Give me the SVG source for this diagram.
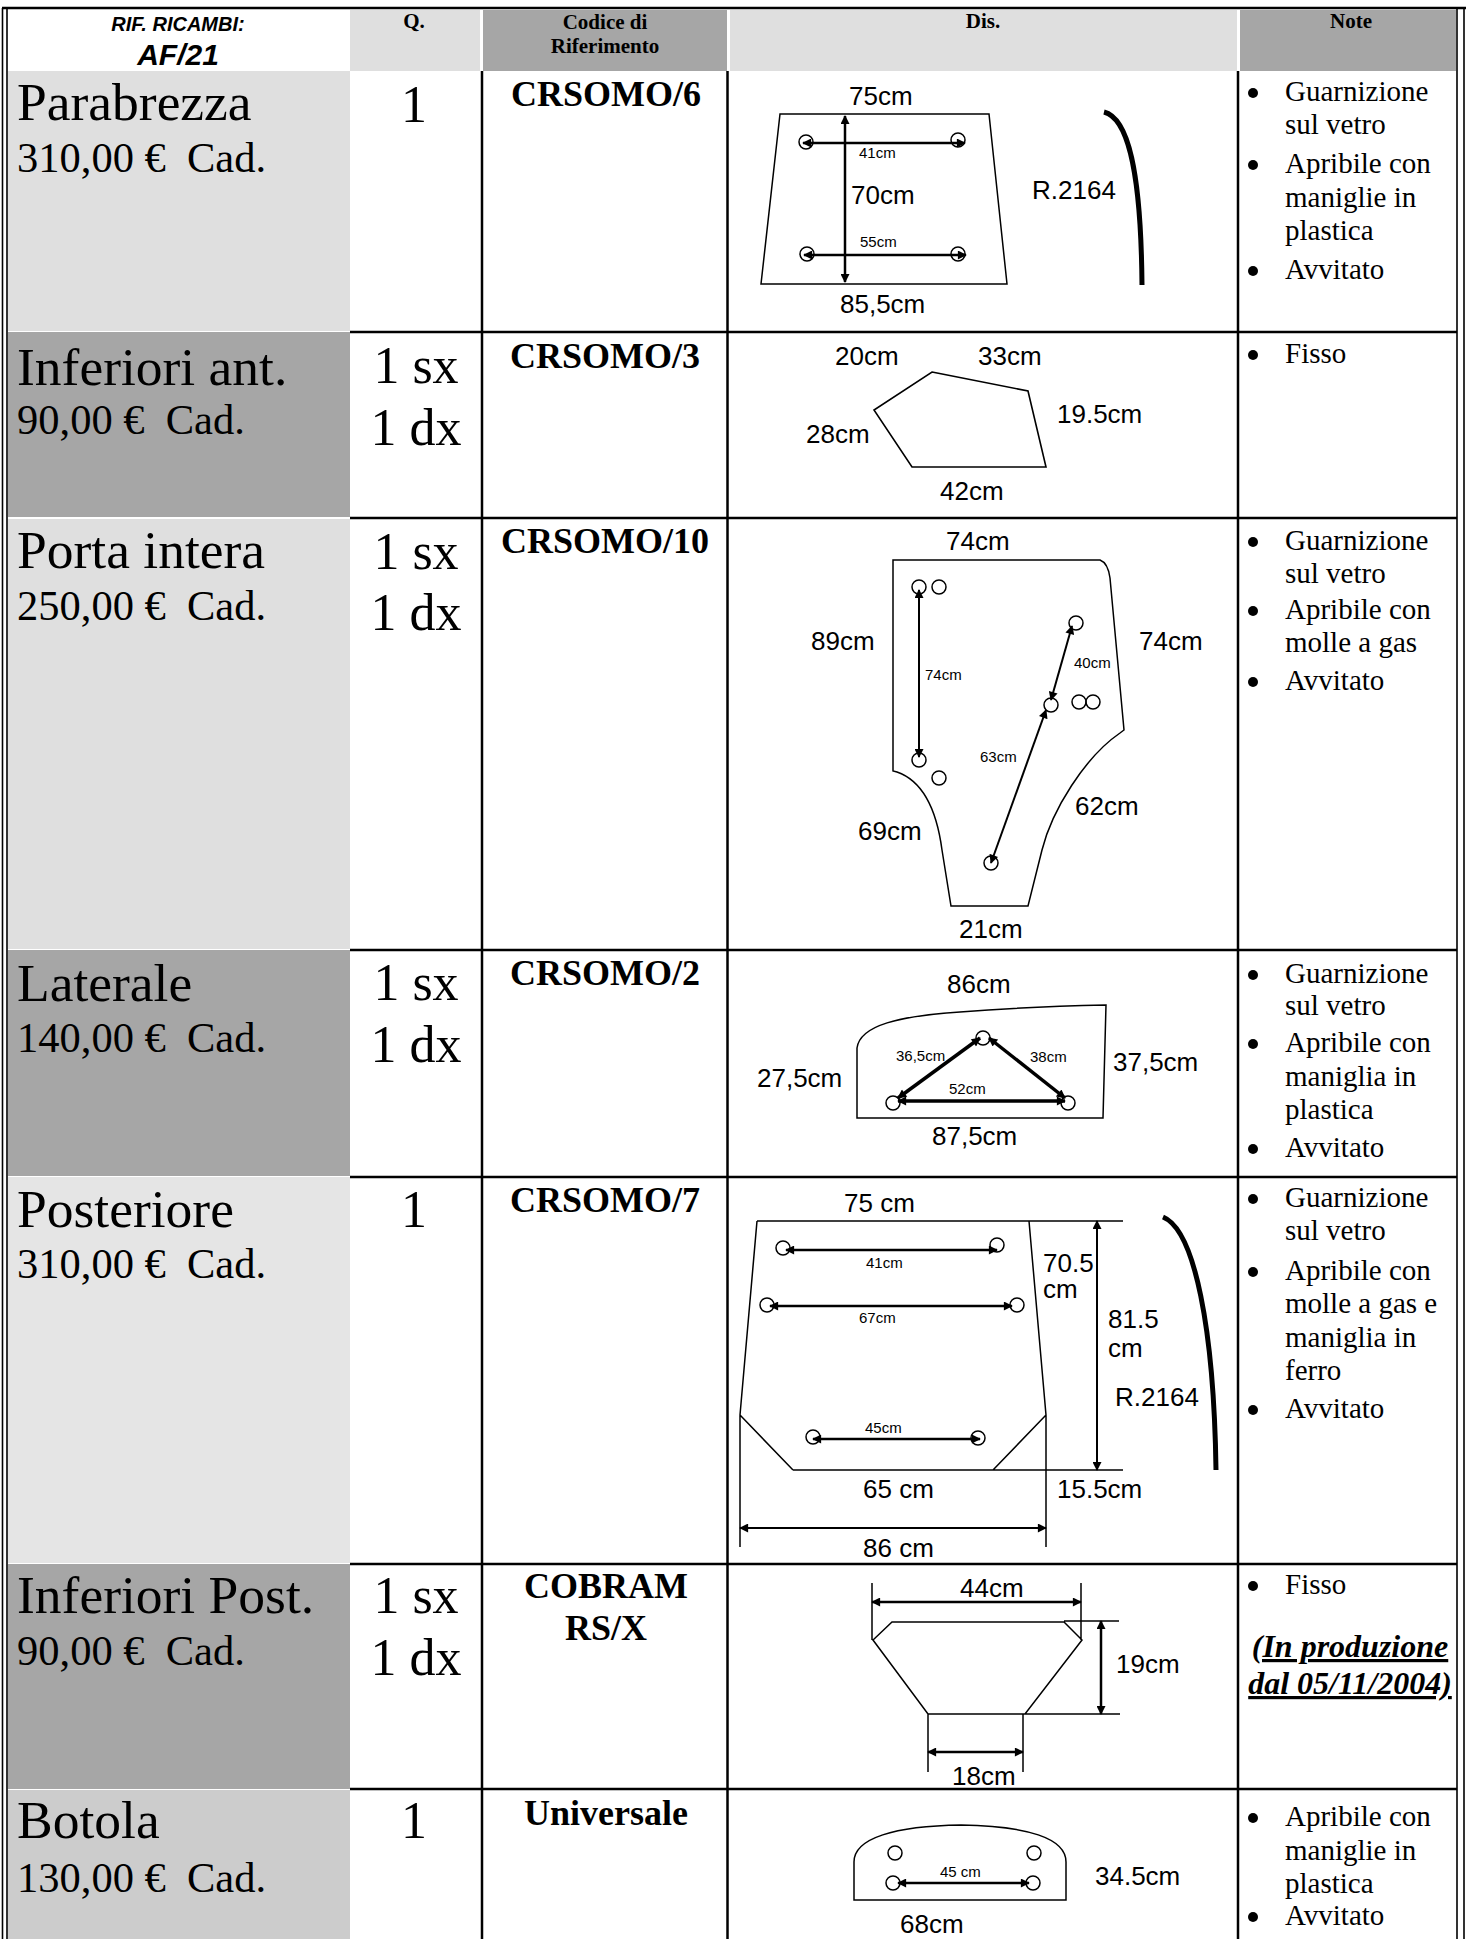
<svg xmlns="http://www.w3.org/2000/svg" width="1472" height="1939" viewBox="0 0 1472 1939">
<defs>
<marker id="ah" viewBox="0 0 10 10" refX="9" refY="5" markerWidth="11" markerHeight="9" markerUnits="userSpaceOnUse" orient="auto-start-reverse"><path d="M0,0 L10,5 L0,10 z" fill="#000"/></marker>
<style>
.grid{stroke:#000;stroke-width:2.5;fill:none}
.bd{stroke:#000;stroke-width:1.6;fill:none}
.thin{stroke:#000;stroke-width:1.5;fill:none}
.serif{font-family:"Liberation Serif","Times New Roman",serif;fill:#000}
.sans{font-family:"Liberation Sans",Arial,sans-serif;fill:#000}
.hdr{font-size:21px;font-weight:bold;text-anchor:middle}
.name{font-size:53.5px}
.price{font-size:42.5px}
.qty{font-size:52px;text-anchor:middle}
.code{font-size:36px;font-weight:bold;text-anchor:middle}
.note{font-size:29px}
.dim{font-size:26px}
.sm{font-size:15px}
.hole{fill:none;stroke:#000;stroke-width:1.5}
.arr{stroke:#000;stroke-width:2.5;fill:none;marker-start:url(#ah);marker-end:url(#ah)}
.arrt{stroke:#000;stroke-width:3.5;fill:none;marker-start:url(#ah);marker-end:url(#ah)}
.arrn{stroke:#000;stroke-width:2;fill:none;marker-start:url(#ah);marker-end:url(#ah)}
.bow{stroke:#000;stroke-width:5;fill:none}
.dot{fill:#000}
</style>
</defs>
<rect width="1472" height="1939" fill="#fff"/>

<g id="fills">
<rect x="350" y="10" width="130" height="61" fill="#dfdfdf"/>
<rect x="483" y="10" width="244" height="61" fill="#a6a6a6"/>
<rect x="730" y="10" width="507" height="61" fill="#dfdfdf"/>
<rect x="1240" y="10" width="216" height="61" fill="#a6a6a6"/>
<rect x="8" y="71" width="342" height="260" fill="#dfdfdf"/>
<rect x="8" y="332" width="342" height="185" fill="#a6a6a6"/>
<rect x="8" y="519" width="342" height="430" fill="#dfdfdf"/>
<rect x="8" y="950" width="342" height="226" fill="#a6a6a6"/>
<rect x="8" y="1177" width="342" height="386" fill="#e5e5e5"/>
<rect x="8" y="1564" width="342" height="225" fill="#a6a6a6"/>
<rect x="8" y="1790" width="342" height="149" fill="#cccccc"/>
</g>

<g id="grid">
<path class="grid" d="M2,8 H1466"/>
<path class="bd" d="M2.5,8 V1939 M7,8 V1939 M1457,8 V1939 M1464,8 V1939"/>
<path class="grid" d="M482,71 V1939 M727.5,71 V1939 M1238,71 V1939"/>
<path class="grid" d="M350,332 H1457 M350,518 H1457 M350,950 H1457 M350,1177 H1457 M350,1564 H1457 M350,1789 H1457"/>
</g>

<g id="header">
<text class="sans" x="178" y="31" font-size="20" font-weight="bold" font-style="italic" text-anchor="middle">RIF. RICAMBI:</text>
<text class="sans" x="178" y="65" font-size="30" font-weight="bold" font-style="italic" text-anchor="middle">AF/21</text>
<text class="serif hdr" x="414" y="28">Q.</text>
<text class="serif hdr" x="605" y="29">Codice di</text>
<text class="serif hdr" x="605" y="53">Riferimento</text>
<text class="serif hdr" x="983" y="28">Dis.</text>
<text class="serif hdr" x="1351" y="28">Note</text>
</g>

<g id="row-parabrezza">
<text class="serif name" x="17" y="120">Parabrezza</text>
<text class="serif price" x="17" y="172" xml:space="preserve">310,00 €  Cad.</text>
<text class="serif qty" x="414" y="122">1</text>
<text class="serif code" x="606" y="106">CRSOMO/6</text>
<path class="thin" d="M780,114 L989,114 L1007,284 L761,284 Z"/>
<circle class="hole" cx="806" cy="142" r="7"/><circle class="hole" cx="958" cy="140" r="7"/>
<circle class="hole" cx="807" cy="254" r="7"/><circle class="hole" cx="958" cy="254" r="7"/>
<path class="arr" d="M845,116 V282"/>
<path class="arr" d="M803,143 H965"/>
<path class="arr" d="M804,255 H966"/>
<path class="bow" d="M1104,112 C1128,118 1141,170 1142,285"/>
<text class="sans dim" x="849" y="105">75cm</text>
<text class="sans sm" x="859" y="158">41cm</text>
<text class="sans dim" x="851" y="204">70cm</text>
<text class="sans sm" x="860" y="247">55cm</text>
<text class="sans dim" x="840" y="313">85,5cm</text>
<text class="sans dim" x="1032" y="199">R.2164</text>
<circle class="dot" cx="1253" cy="93" r="5"/><circle class="dot" cx="1253" cy="165" r="5"/><circle class="dot" cx="1253" cy="271" r="5"/>
<text class="serif note" x="1285" y="101">Guarnizione</text>
<text class="serif note" x="1285" y="134">sul vetro</text>
<text class="serif note" x="1285" y="173">Apribile con</text>
<text class="serif note" x="1285" y="207">maniglie in</text>
<text class="serif note" x="1285" y="240">plastica</text>
<text class="serif note" x="1285" y="279">Avvitato</text>
</g>

<g id="row-inferiori-ant">
<text class="serif name" x="17" y="385">Inferiori ant.</text>
<text class="serif price" x="17" y="434" xml:space="preserve">90,00 €  Cad.</text>
<text class="serif qty" x="416" y="383">1 sx</text>
<text class="serif qty" x="416" y="445">1 dx</text>
<text class="serif code" x="605" y="368">CRSOMO/3</text>
<path class="bd" d="M932,372 L1028,391 L1046,467 L912,467 L874,410 Z"/>
<text class="sans dim" x="835" y="365">20cm</text>
<text class="sans dim" x="978" y="365">33cm</text>
<text class="sans dim" x="806" y="443">28cm</text>
<text class="sans dim" x="1057" y="423">19.5cm</text>
<text class="sans dim" x="940" y="500">42cm</text>
<circle class="dot" cx="1253" cy="355" r="5"/>
<text class="serif note" x="1285" y="363">Fisso</text>
</g>

<g id="row-porta-intera">
<text class="serif name" x="17" y="568">Porta intera</text>
<text class="serif price" x="17" y="620" xml:space="preserve">250,00 €  Cad.</text>
<text class="serif qty" x="416" y="569">1 sx</text>
<text class="serif qty" x="416" y="630">1 dx</text>
<text class="serif code" x="605" y="553">CRSOMO/10</text>
<path class="thin" d="M893,560 L1100,560 Q1108,563 1110,578 L1124,730 L1120,733 C1085,757 1052,810 1042,850 L1028,906 L951,906 L942,850 C936,805 920,780 897,772 L893,771 Z"/>
<circle class="hole" cx="919" cy="587" r="7"/><circle class="hole" cx="939" cy="587" r="7"/>
<circle class="hole" cx="1076" cy="623" r="7"/><circle class="hole" cx="1051" cy="705" r="7"/>
<circle class="hole" cx="1079" cy="702" r="7"/><circle class="hole" cx="1093" cy="702" r="7"/>
<circle class="hole" cx="919" cy="760" r="7"/><circle class="hole" cx="939" cy="778" r="7"/>
<circle class="hole" cx="991" cy="863" r="7"/>
<path class="arrn" d="M919,590 V757"/>
<path class="arrn" d="M1072,626 L1051,700"/>
<path class="arrn" d="M1046,710 L991,863"/>
<text class="sans dim" x="946" y="550">74cm</text>
<text class="sans dim" x="811" y="650">89cm</text>
<text class="sans dim" x="1139" y="650">74cm</text>
<text class="sans sm" x="925" y="680">74cm</text>
<text class="sans sm" x="1074" y="668">40cm</text>
<text class="sans sm" x="980" y="762">63cm</text>
<text class="sans dim" x="1075" y="815">62cm</text>
<text class="sans dim" x="858" y="840">69cm</text>
<text class="sans dim" x="959" y="938">21cm</text>
<circle class="dot" cx="1253" cy="542" r="5"/><circle class="dot" cx="1253" cy="611" r="5"/><circle class="dot" cx="1253" cy="682" r="5"/>
<text class="serif note" x="1285" y="550">Guarnizione</text>
<text class="serif note" x="1285" y="583">sul vetro</text>
<text class="serif note" x="1285" y="619">Apribile con</text>
<text class="serif note" x="1285" y="652">molle a gas</text>
<text class="serif note" x="1285" y="690">Avvitato</text>
</g>

<g id="row-laterale">
<text class="serif name" x="17" y="1001">Laterale</text>
<text class="serif price" x="17" y="1052" xml:space="preserve">140,00 €  Cad.</text>
<text class="serif qty" x="416" y="1000">1 sx</text>
<text class="serif qty" x="416" y="1062">1 dx</text>
<text class="serif code" x="605" y="985">CRSOMO/2</text>
<path class="thin" d="M857,1118 L857,1048 C860,1025 900,1016 960,1012 C1010,1008 1060,1006 1106,1005 L1103,1118 Z"/>
<circle class="hole" cx="983" cy="1038" r="7"/><circle class="hole" cx="893" cy="1103" r="7"/><circle class="hole" cx="1068" cy="1103" r="7"/>
<path class="arrt" d="M898,1098 L980,1038"/>
<path class="arrt" d="M989,1038 L1065,1098"/>
<path class="arrt" d="M898,1101 L1065,1101"/>
<text class="sans dim" x="947" y="993">86cm</text>
<text class="sans sm" x="896" y="1061">36,5cm</text>
<text class="sans sm" x="1030" y="1062">38cm</text>
<text class="sans sm" x="949" y="1094">52cm</text>
<text class="sans dim" x="757" y="1087">27,5cm</text>
<text class="sans dim" x="1113" y="1071">37,5cm</text>
<text class="sans dim" x="932" y="1145">87,5cm</text>
<circle class="dot" cx="1253" cy="975" r="5"/><circle class="dot" cx="1253" cy="1044" r="5"/><circle class="dot" cx="1253" cy="1149" r="5"/>
<text class="serif note" x="1285" y="983">Guarnizione</text>
<text class="serif note" x="1285" y="1015">sul vetro</text>
<text class="serif note" x="1285" y="1052">Apribile con</text>
<text class="serif note" x="1285" y="1086">maniglia in</text>
<text class="serif note" x="1285" y="1119">plastica</text>
<text class="serif note" x="1285" y="1157">Avvitato</text>
</g>

<g id="row-posteriore">
<text class="serif name" x="17" y="1227">Posteriore</text>
<text class="serif price" x="17" y="1278" xml:space="preserve">310,00 €  Cad.</text>
<text class="serif qty" x="414" y="1227">1</text>
<text class="serif code" x="605" y="1212">CRSOMO/7</text>
<path class="thin" d="M757,1221 L740,1415 L793,1470 M757,1221 H1123 M1029,1221 L1046,1415 L993,1470 M793,1470 H1123 M740,1415 V1547 M1046,1415 V1547"/>
<circle class="hole" cx="783" cy="1248" r="7"/><circle class="hole" cx="997" cy="1245" r="7"/>
<circle class="hole" cx="767" cy="1305" r="7"/><circle class="hole" cx="1017" cy="1305" r="7"/>
<circle class="hole" cx="813" cy="1437" r="7"/><circle class="hole" cx="978" cy="1438" r="7"/>
<path class="arr" d="M786,1250 H997"/>
<path class="arr" d="M770,1306 H1012"/>
<path class="arr" d="M813,1439 H980"/>
<path class="arrn" d="M740,1528 H1046"/>
<path class="arrn" d="M1097,1221 V1470"/>
<path class="bow" d="M1163,1217 C1195,1230 1214,1330 1216,1470"/>
<text class="sans dim" x="844" y="1212">75 cm</text>
<text class="sans sm" x="866" y="1268">41cm</text>
<text class="sans sm" x="859" y="1323">67cm</text>
<text class="sans sm" x="865" y="1433">45cm</text>
<text class="sans dim" x="1043" y="1272">70.5</text>
<text class="sans dim" x="1043" y="1298">cm</text>
<text class="sans dim" x="1108" y="1328">81.5</text>
<text class="sans dim" x="1108" y="1357">cm</text>
<text class="sans dim" x="1115" y="1406">R.2164</text>
<text class="sans dim" x="863" y="1498">65 cm</text>
<text class="sans dim" x="1057" y="1498">15.5cm</text>
<text class="sans dim" x="863" y="1557">86 cm</text>
<circle class="dot" cx="1253" cy="1199" r="5"/><circle class="dot" cx="1253" cy="1272" r="5"/><circle class="dot" cx="1253" cy="1410" r="5"/>
<text class="serif note" x="1285" y="1207">Guarnizione</text>
<text class="serif note" x="1285" y="1240">sul vetro</text>
<text class="serif note" x="1285" y="1280">Apribile con</text>
<text class="serif note" x="1285" y="1313">molle a gas e</text>
<text class="serif note" x="1285" y="1347">maniglia in</text>
<text class="serif note" x="1285" y="1380">ferro</text>
<text class="serif note" x="1285" y="1418">Avvitato</text>
</g>

<g id="row-inferiori-post">
<text class="serif name" x="17" y="1613">Inferiori Post.</text>
<text class="serif price" x="17" y="1665" xml:space="preserve">90,00 €  Cad.</text>
<text class="serif qty" x="416" y="1613">1 sx</text>
<text class="serif qty" x="416" y="1675">1 dx</text>
<text class="serif code" x="606" y="1598">COBRAM</text>
<text class="serif code" x="606" y="1640">RS/X</text>
<path class="thin" d="M892,1622 H1064 L1082,1640 L1025,1714 H928 L873,1640 Z M1064,1621 H1119 M1025,1714 H1120 M928,1714 V1772 M1023,1714 V1772 M872,1583 V1640 M1081,1583 V1640"/>
<path class="arr" d="M872,1602 H1081"/>
<path class="arr" d="M928,1752 H1023"/>
<path class="arr" d="M1101,1621 V1714"/>
<text class="sans dim" x="960" y="1597">44cm</text>
<text class="sans dim" x="1116" y="1673">19cm</text>
<text class="sans dim" x="952" y="1785">18cm</text>
<circle class="dot" cx="1253" cy="1586" r="5"/>
<text class="serif note" x="1285" y="1594">Fisso</text>
<text class="serif" x="1350" y="1657" font-size="32" font-weight="bold" font-style="italic" text-anchor="middle" text-decoration="underline">(In produzione</text>
<text class="serif" x="1350" y="1694" font-size="32" font-weight="bold" font-style="italic" text-anchor="middle" text-decoration="underline">dal 05/11/2004)</text>
</g>

<g id="row-botola">
<text class="serif name" x="17" y="1838">Botola</text>
<text class="serif price" x="17" y="1892" xml:space="preserve">130,00 €  Cad.</text>
<text class="serif qty" x="414" y="1838">1</text>
<text class="serif code" x="606" y="1825">Universale</text>
<path class="thin" d="M854,1900 L854,1862 C854,1838 895,1826 961,1825 C1027,1826 1066,1838 1066,1862 L1066,1900 Z"/>
<circle class="hole" cx="895" cy="1853" r="7"/><circle class="hole" cx="1034" cy="1853" r="7"/>
<circle class="hole" cx="893" cy="1883" r="7"/><circle class="hole" cx="1033" cy="1883" r="7"/>
<path class="arr" d="M898,1883 H1029"/>
<text class="sans sm" x="940" y="1877">45 cm</text>
<text class="sans dim" x="1095" y="1885">34.5cm</text>
<text class="sans dim" x="900" y="1933">68cm</text>
<circle class="dot" cx="1253" cy="1818" r="5"/><circle class="dot" cx="1253" cy="1917" r="5"/>
<text class="serif note" x="1285" y="1826">Apribile con</text>
<text class="serif note" x="1285" y="1860">maniglie in</text>
<text class="serif note" x="1285" y="1893">plastica</text>
<text class="serif note" x="1285" y="1925">Avvitato</text>
</g>
</svg>
